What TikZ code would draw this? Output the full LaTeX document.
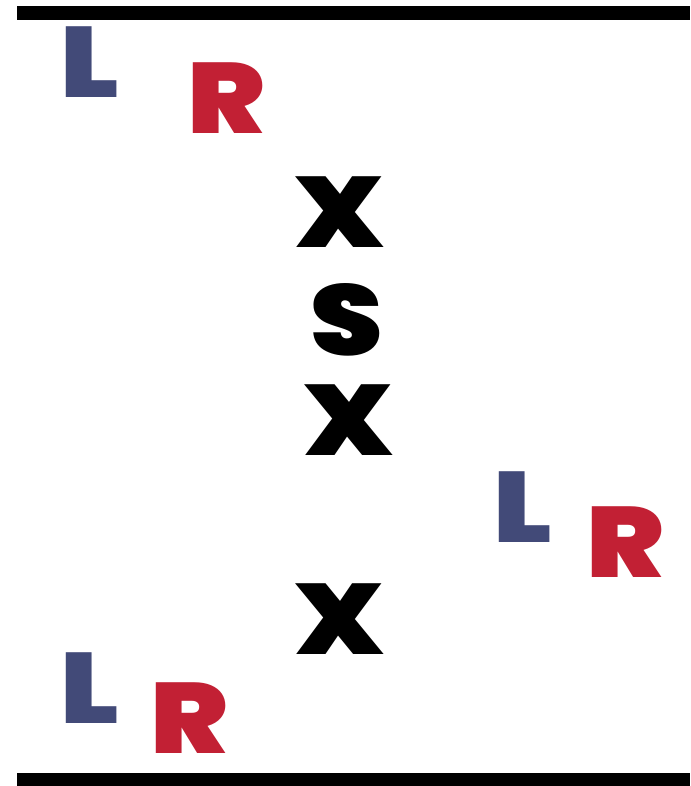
\documentclass[tikz,border=0pt]{standalone}
\usepackage{fontspec}
\usepackage{xcolor}
\usepackage{tikz}
\usetikzlibrary{positioning}
\newfontfamily\heavyfont{Poppins Black}[FakeStretch=1.16]
\definecolor{leftblue}{RGB}{66,74,120}
\definecolor{rightred}{RGB}{194,32,52}

\begin{document}
\begin{tikzpicture}[
  x=1pt,y=-1pt,
  letter/.style={inner sep=0pt,anchor=center,font=\heavyfont\fontsize{100}{100}\selectfont},
  lbox/.style={letter,text=leftblue},
  rbox/.style={letter,text=rightred},
  xbox/.style={letter,text=black},
  rule/.style={line width=14pt}
]
\useasboundingbox (0,0) rectangle (690,786);
\coordinate (tl) at (17,13.5);
\coordinate (tr) at (690,13.5);
\coordinate (bl) at (17,780);
\coordinate (br) at (690,780);
\draw[rule] (tl) -- (tr);
\draw[rule] (bl) -- (br);

% first pair
\node[lbox] (l1) at (89.5,62.5) {L};
\node[rbox] (r1) at (226.5,98.5) {R};
% middle column
\node[xbox] (x1) at (340,212.5) {X};
\node[xbox] (s) at (346.5,319.5) {S};
\node[xbox] (x2) at (348.5,420.5) {X};
\node[xbox] (x3) at (340,619) {X};
% second pair
\node[lbox] (l2) at (522.5,507.5) {L};
\node[rbox] (r2) at (625,542.5) {R};
% third pair
\node[lbox] (l3) at (89.5,688.5) {L};
\node[rbox] (r3) at (189,718.5) {R};
\end{tikzpicture}
\end{document}
